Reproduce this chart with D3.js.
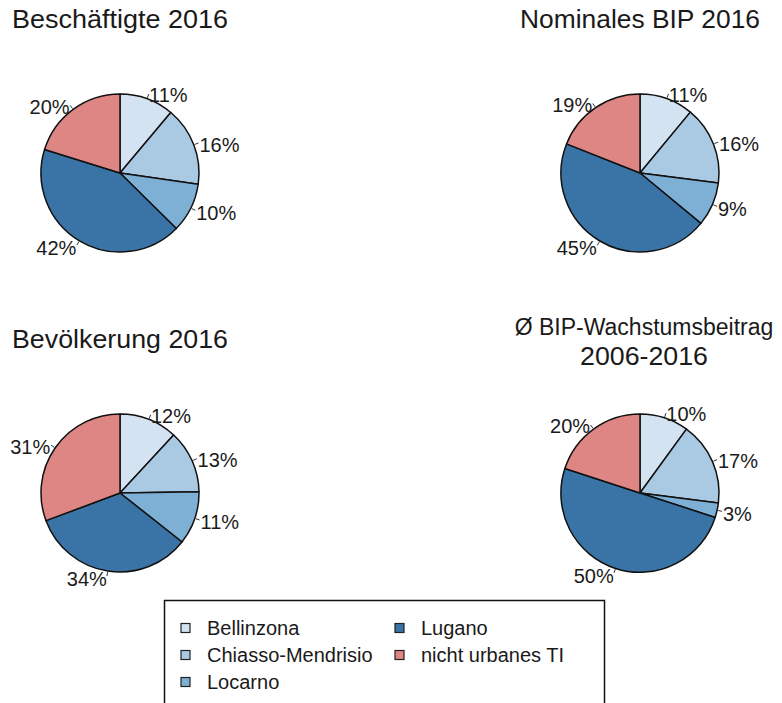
<!DOCTYPE html>
<html>
<head>
<meta charset="utf-8">
<script src="https://cdn.jsdelivr.net/npm/d3@7"></script>
<style>
  body { margin: 0; background: #fff; }
  text { font-family: "Liberation Sans", Arial, sans-serif; fill: #1a1a1a; }
</style>
</head>
<body>
<div id="chart"></div>
<script>
const regions = ["Bellinzona", "Chiasso-Mendrisio", "Locarno", "Lugano", "nicht urbanes TI"];
const colors = ["#d4e3f1", "#aacae3", "#7eafd5", "#3a74a7", "#dd8684"];

const beschaeftigte = [11, 16, 10, 42, 20];
const bip = [11, 16, 9, 45, 19];
const bevoelkerung = [12, 13, 11, 34, 31];
const wachstum = [10, 17, 3, 50, 20];

const titles = [
  ["Beschäftigte 2016"],
  ["Nominales BIP 2016"],
  ["Bevölkerung 2016"],
  ["Ø BIP-Wachstumsbeitrag", "2006-2016"]
];

const width = 782;
const height = 703;
const r = 79;

// title line widths as set in the original typeface (null = natural width)
const panels = [
  { values: beschaeftigte, cx: 120, cy: 173, tx: 120, title: titles[0], ty: [19], tw: [216], fs: 25 },
  { values: bip, cx: 640, cy: 173, tx: 640, title: titles[1], ty: [19], tw: [240], fs: 25 },
  { values: bevoelkerung, cx: 120, cy: 493, tx: 120, title: titles[2], ty: [339], tw: [216], fs: 25 },
  { values: wachstum, cx: 640, cy: 493, tx: 644, title: titles[3], ty: [327, 356], tw: [null, 128], fs: 23 }
];

const svg = d3.select("#chart")
  .append("svg")
  .attr("width", width)
  .attr("height", height);

const pie = d3.pie().sort(null).value(d => d);
const arc = d3.arc().innerRadius(0).outerRadius(r);

panels.forEach(p => {
  p.title.forEach((t, k) => {
    const txt = svg.append("text")
      .attr("x", p.tx)
      .attr("y", p.ty[k])
      .attr("dy", "0.35em")
      .attr("text-anchor", "middle")
      .style("font-size", (p.tw[k] ? 25 : p.fs) + "px")
      .text(t);
    if (p.tw[k]) {
      txt.attr("textLength", p.tw[k])
        .attr("lengthAdjust", "spacingAndGlyphs");
    }
  });

  const g = svg.append("g").attr("transform", `translate(${p.cx},${p.cy})`);
  const arcs = pie(p.values);

  g.selectAll("path")
    .data(arcs)
    .enter()
    .append("path")
    .attr("d", arc)
    .attr("fill", (d, j) => colors[j])
    .attr("stroke", "#111")
    .attr("stroke-width", 1.5)
    .attr("stroke-linejoin", "round");

  arcs.forEach(d => {
    const a = (d.startAngle + d.endAngle) / 2;
    const sx = Math.sin(a), sy = -Math.cos(a);
    g.append("line")
      .attr("x1", sx * (r + 1)).attr("y1", sy * (r + 1))
      .attr("x2", sx * (r + 5)).attr("y2", sy * (r + 5))
      .attr("stroke", "#333")
      .attr("stroke-width", 1);
    g.append("text")
      .attr("x", sx * (r + 6))
      .attr("y", sy * (r + 6) + 2)
      .attr("dy", "0.35em")
      .attr("text-anchor", sx >= 0 ? "start" : "end")
      .style("font-size", "20px")
      .text(d.data + "%");
  });
});

// legend
const legend = svg.append("g");
legend.append("rect")
  .attr("x", 164.5)
  .attr("y", 600.5)
  .attr("width", 440)
  .attr("height", 140)
  .attr("fill", "#fff")
  .attr("stroke", "#111")
  .attr("stroke-width", 1.5);

const cols = [181, 395];
const rows = [628, 655, 682];
regions.forEach((name, j) => {
  const col = j < 3 ? 0 : 1;
  const row = j < 3 ? j : j - 3;
  legend.append("rect")
    .attr("x", cols[col])
    .attr("y", rows[row] - 4.5)
    .attr("width", 9)
    .attr("height", 9)
    .attr("fill", colors[j])
    .attr("stroke", "#222")
    .attr("stroke-width", 1.2);
  legend.append("text")
    .attr("x", cols[col] + 26)
    .attr("y", rows[row])
    .attr("dy", "0.35em")
    .style("font-size", "20px")
    .text(name);
});
</script>
</body>
</html>
